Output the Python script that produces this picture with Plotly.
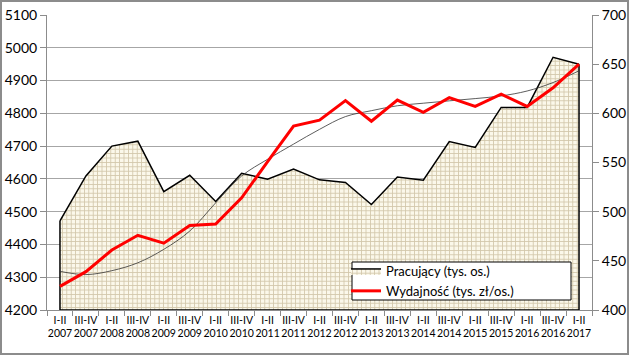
import plotly.graph_objects as go

# ---- data ----
periods = ["I-II", "III-IV"] * 10 + ["I-II"]
years = [2007, 2007, 2008, 2008, 2009, 2009, 2010, 2010, 2011, 2011, 2012, 2012,
         2013, 2013, 2014, 2014, 2015, 2015, 2016, 2016, 2017]
categories = [f"{p}<br>{y}" for p, y in zip(periods, years)]

pracujacy = [4472, 4609, 4700, 4715, 4561, 4611, 4531, 4617, 4599, 4630, 4597,
             4589, 4522, 4606, 4596, 4714, 4696, 4818, 4818, 4971, 4950]
wydajnosc = [424, 439, 461, 476, 468, 486, 487.5, 514, 551, 587, 593, 613, 592,
             613.5, 601, 616, 607, 619.5, 607, 626, 650]
trend_wydajnosc = [439.3, 436, 440, 448, 461.7, 480.3, 509, 536.3, 553.3, 568.7,
                   583.7, 596.7, 602.7, 607.7, 610.3, 612.7, 615, 617.7, 622.7,
                   631.3, 643.3]

y_left_range = [4200, 5100]
y_right_range = [400, 700]

FONT = "Lato, 'Open Sans', sans-serif"

# plot-area pixel geometry (for paper-coordinate conversions)
PL, PR, PT, PB = 47, 592, 15, 310

def px_x(x):
    return (x - PL) / (PR - PL)

def px_y(y):
    return (PB - y) / (PB - PT)

fig = go.Figure()

# Area series
fig.add_trace(go.Scatter(
    x=categories, y=pracujacy, mode="lines", fill="tozeroy",
    name="Pracujący (tys. os.)",
    line=dict(color="black", width=1.5),
    fillcolor="#FBF8EA",
    fillpattern=dict(shape="+", fgcolor="#A8976A", bgcolor="#FBF8EA",
                     size=4.4, solidity=0.35),
    yaxis="y",
))
# Area outline: side edges and base
fig.add_trace(go.Scatter(
    x=[categories[-1], categories[-1], categories[0], categories[0]],
    y=[pracujacy[-1], y_left_range[0], y_left_range[0], pracujacy[0]],
    mode="lines", line=dict(color="black", width=1.5), showlegend=False,
    hoverinfo="skip", yaxis="y",
))

# Trend line of Wydajnosc
fig.add_trace(go.Scatter(
    x=categories, y=trend_wydajnosc, mode="lines", line_shape="spline",
    line=dict(color="#333333", width=0.8), showlegend=False, yaxis="y2",
    hoverinfo="skip",
))

# Wydajnosc line
fig.add_trace(go.Scatter(
    x=categories, y=wydajnosc, mode="lines", name="Wydajność (tys. zł/os.)",
    line=dict(color="#FF0000", width=3), yaxis="y2",
))

fig.update_layout(
    width=629, height=355,
    margin=dict(l=PL, r=629 - PR, t=PT, b=355 - PB),
    paper_bgcolor="white", plot_bgcolor="white",
    font=dict(family=FONT, color="black"),
    xaxis=dict(
        type="category", tickson="boundaries", ticks="outside", ticklen=5,
        tickcolor="#8C8C8C", showgrid=False, showline=True, linecolor="#8C8C8C",
        tickfont=dict(size=10.5), tickangle=0, range=[-0.5, len(categories) - 0.5],
        automargin=False,
    ),
    yaxis=dict(
        range=y_left_range, dtick=100, ticks="outside", ticklen=6,
        tickcolor="#8C8C8C", showgrid=True, gridcolor="#A6A6A6", gridwidth=1,
        showline=True, linecolor="#8C8C8C", tickfont=dict(size=14),
        zeroline=False, automargin=False,
    ),
    yaxis2=dict(
        range=y_right_range, dtick=50, overlaying="y", side="right",
        ticks="outside", ticklen=6, tickcolor="#8C8C8C", showgrid=False,
        showline=True, linecolor="#8C8C8C", tickfont=dict(size=14),
        zeroline=False, automargin=False,
    ),
    legend=dict(
        x=px_x(346), y=px_y(256), xanchor="left", yanchor="top",
        bgcolor="rgba(0,0,0,0)", borderwidth=0,
        font=dict(size=13), tracegroupgap=0, itemwidth=30,
    ),
    shapes=[
        dict(type="rect", xref="paper", yref="paper",
             x0=px_x(352), x1=px_x(571), y0=px_y(300), y1=px_y(262),
             fillcolor="white", line=dict(color="black", width=1), layer="above"),
        dict(type="rect", xref="paper", yref="paper",
             x0=px_x(1), x1=px_x(628), y0=px_y(354), y1=px_y(1),
             line=dict(color="#8C8C8C", width=2)),
    ],
    showlegend=True,
)

fig.write_html(
    "out.html",
    config={"displayModeBar": False},
    post_script="document.body.style.margin='0';document.body.style.overflow='hidden';",
)
